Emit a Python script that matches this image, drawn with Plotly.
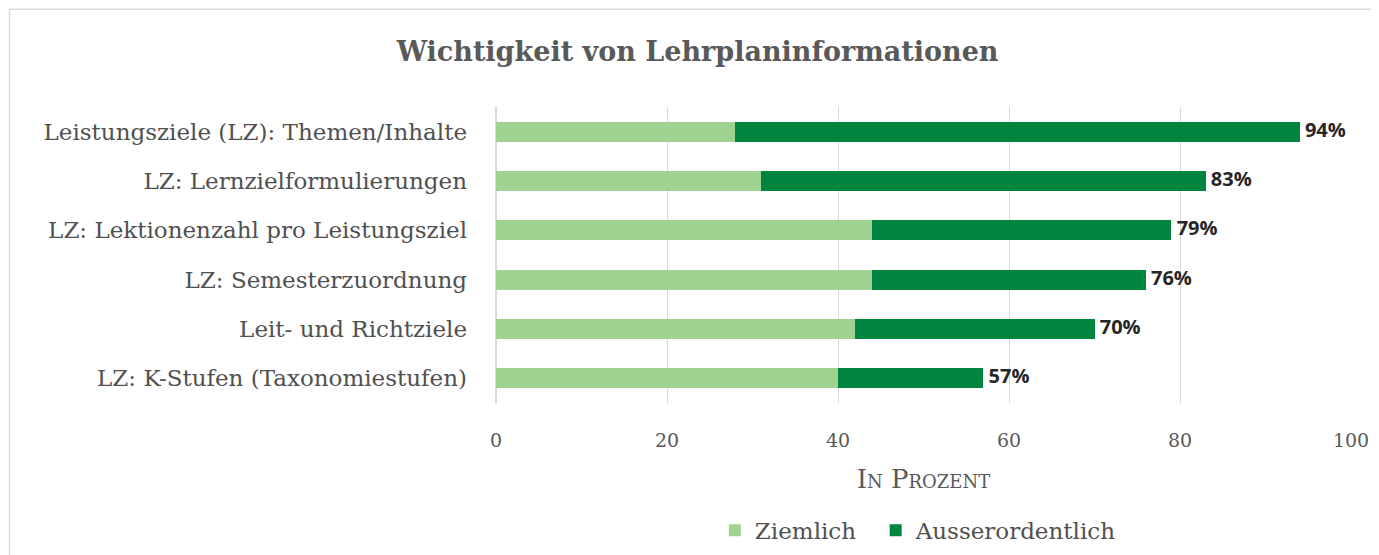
import plotly.graph_objects as go

categories = [
    "Leistungsziele (LZ): Themen/Inhalte",
    "LZ: Lernzielformulierungen",
    "LZ: Lektionenzahl pro Leistungsziel",
    "LZ: Semesterzuordnung",
    "Leit- und Richtziele",
    "LZ: K-Stufen (Taxonomiestufen)",
]
ziemlich = [28, 31, 44, 44, 42, 40]
ausserordentlich = [66, 52, 35, 32, 28, 17]
totals = [94, 83, 79, 76, 70, 57]
total_labels = [f" {t}%" for t in totals]
x_ticks = [0, 20, 40, 60, 80, 100]

serif = "DejaVu Serif, Liberation Serif, serif"

fig = go.Figure()
fig.add_trace(go.Bar(
    y=categories, x=ziemlich, name="Ziemlich  ", orientation="h",
    marker=dict(color="#9fd391", line=dict(width=0)),
))
fig.add_trace(go.Bar(
    y=categories, x=ausserordentlich, name="Ausserordentlich", orientation="h",
    marker=dict(color="#00853e", line=dict(width=0)),
))
fig.add_trace(go.Scatter(
    y=categories, x=totals, text=total_labels, mode="text",
    textposition="middle right", showlegend=False, hoverinfo="skip",
    textfont=dict(family="Open Sans, Lato, sans-serif", size=20, color="#262626", weight="bold"),
    cliponaxis=False,
))

fig.update_layout(
    width=1371, height=547,
    barmode="stack", bargap=0.6,
    paper_bgcolor="white", plot_bgcolor="white",
    margin=dict(l=488, r=28, t=99, b=152, autoexpand=False),
    title=dict(
        text="<b>Wichtigkeit von Lehrplaninformationen</b>",
        x=0.503, xanchor="center", xref="container", y=0.92, yanchor="middle",
        yref="container",
        font=dict(family=serif, size=27, color="#595959"),
    ),
    showlegend=True,
    legend=dict(
        orientation="h", x=0.494, xanchor="center", y=-0.43, yanchor="middle",
        xref="paper", traceorder="normal",
        font=dict(family=serif, size=23, color="#505050"),
        itemwidth=30,
    ),
    xaxis=dict(
        range=[0, 100], tickvals=x_ticks, showgrid=True, gridcolor="#d9d9d9", gridwidth=1,
        zeroline=True, zerolinecolor="#d9d9d9", ticks="", showline=False,
        automargin=False,
        tickfont=dict(family=serif, size=19, color="#595959"),
        ticklabelstandoff=24,
        title=dict(text="In Prozent", standoff=19,
                   font=dict(family=serif, size=26, color="#595959", variant="small-caps")),
    ),
    yaxis=dict(
        autorange="reversed", showgrid=False, ticks="", showline=False,
        automargin=False,
        tickfont=dict(family=serif, size=23, color="#505050"),
        ticklabelstandoff=28,
    ),
    shapes=[dict(
        type="rect", xref="paper", yref="paper",
        x0=-0.569, x1=1.5, y0=-0.6, y1=1.33,
        line=dict(color="#d9d9d9", width=1.5), fillcolor="rgba(0,0,0,0)", layer="below",
    )],
)

fig.write_html("out.html")
